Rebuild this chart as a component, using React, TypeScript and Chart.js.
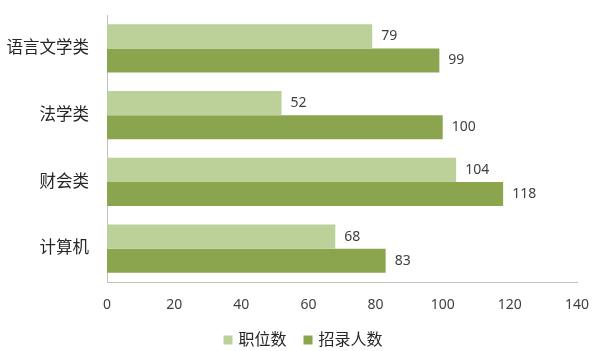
import React, { useEffect, useRef } from "react";
import { Chart, registerables } from "chart.js";

Chart.register(...registerables);

const categories = ["语言文学类", "法学类", "财会类", "计算机"];
const positions = [79, 52, 104, 68];
const hires = [99, 100, 118, 83];
const seriesNames = ["职位数", "招录人数"];
const xTicks = [0, 20, 40, 60, 80, 100, 120, 140];

const FONT = "'Noto Sans', 'Noto Sans CJK SC', sans-serif";

const valueLabels = {
  id: "valueLabels",
  afterDatasetsDraw(chart: any) {
    const ctx = chart.ctx;
    ctx.save();
    ctx.font = `14px ${FONT}`;
    ctx.fillStyle = "#404040";
    ctx.textAlign = "left";
    ctx.textBaseline = "middle";
    chart.data.datasets.forEach((ds: any, di: number) => {
      const meta = chart.getDatasetMeta(di);
      meta.data.forEach((bar: any, i: number) => {
        ctx.fillText(String(ds.data[i]), bar.x + 9, bar.y);
      });
    });
    ctx.restore();
  },
};

const bottomLegend = {
  id: "bottomLegend",
  afterDraw(chart: any) {
    const ctx = chart.ctx;
    ctx.save();
    ctx.font = `16px ${FONT}`;
    ctx.textBaseline = "middle";
    ctx.textAlign = "left";
    const items = chart.data.datasets.map((ds: any) => ({
      text: ds.label,
      color: ds.backgroundColor,
      w: ctx.measureText(ds.label).width,
    }));
    const box = 9, gapText = 6, gapItem = 17;
    const total = items.reduce((s: number, it: any) => s + box + gapText + it.w, 0) + gapItem * (items.length - 1);
    let x = 303 - total / 2;
    const y = 340;
    items.forEach((it: any) => {
      ctx.fillStyle = it.color;
      ctx.fillRect(x, y - box / 2, box, box);
      x += box + gapText;
      ctx.fillStyle = "#262626";
      ctx.fillText(it.text, x, y);
      x += it.w + gapItem;
    });
    ctx.restore();
  },
};

export default function App() {
  const ref = useRef<HTMLCanvasElement>(null);
  useEffect(() => {
    document.body.style.margin = "0";
    const chart = new Chart(ref.current!, {
      type: "bar",
      data: {
        labels: categories,
        datasets: [
          { label: seriesNames[0], data: positions, backgroundColor: "#bcd09a", borderWidth: 0 },
          { label: seriesNames[1], data: hires, backgroundColor: "#8ba54f", borderWidth: 0 },
        ],
      },
      options: {
        indexAxis: "y",
        animation: false,
        responsive: false,
        maintainAspectRatio: false,
        layout: { padding: { top: 15, right: 27, left: 0, bottom: 36 } },
        datasets: { bar: { categoryPercentage: 0.72, barPercentage: 1 } } as any,
        scales: {
          x: {
            min: 0,
            max: 140,
            afterBuildTicks: (axis: any) => {
              axis.ticks = xTicks.map((v) => ({ value: v }));
            },
            grid: { display: false },
            border: { display: true, color: "#bfbfbf" },
            ticks: { color: "#404040", font: { size: 14, family: FONT }, padding: 7, maxRotation: 0 },
            afterFit: (axis: any) => {
              axis.height = 33;
              axis.paddingLeft = 0;
              axis.paddingRight = 0;
            },
          },
          y: {
            grid: { display: false },
            border: { display: true, color: "#bfbfbf" },
            ticks: { color: "#262626", font: { size: 16.5, family: FONT }, padding: 10 },
            afterFit: (axis: any) => {
              axis.width = 107;
              axis.paddingTop = 0;
              axis.paddingBottom = 0;
            },
          },
        },
        plugins: {
          legend: { display: false },
          tooltip: { enabled: false },
        },
      },
      plugins: [valueLabels, bottomLegend],
    });
    return () => chart.destroy();
  }, []);
  return (
    <div style={{ width: 604, height: 351 }}>
      <canvas ref={ref} width={604} height={351} style={{ width: 604, height: 351 }} />
    </div>
  );
}
